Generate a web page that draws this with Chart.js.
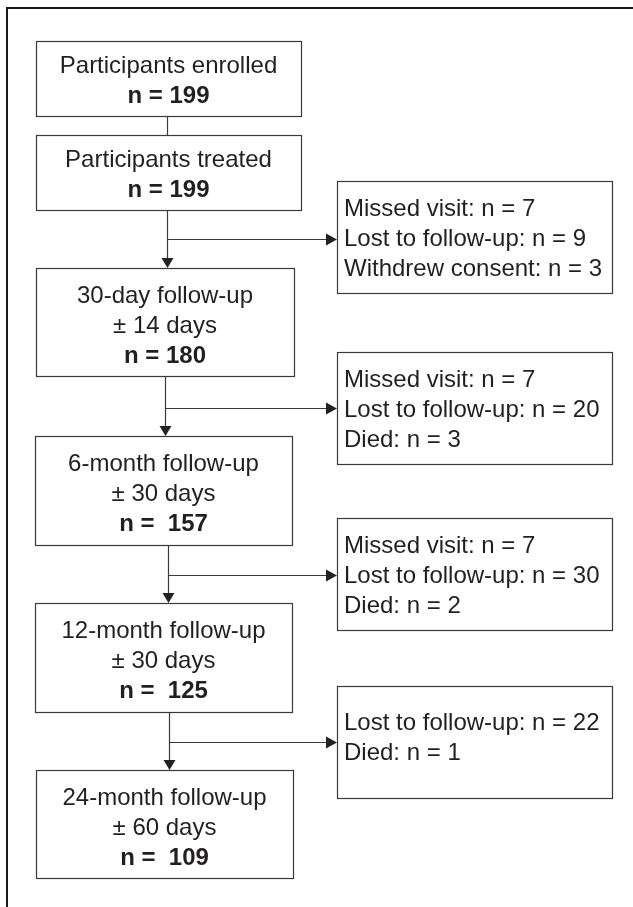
<!DOCTYPE html>
<html><head><meta charset="utf-8">
<script src="https://cdn.jsdelivr.net/npm/chart.js@4/dist/chart.umd.min.js"></script>
<style>html,body{margin:0;padding:0;background:#fff}#wrap{width:633px;height:907px;position:relative}</style>
</head><body><div id="wrap"><canvas id="c"></canvas></div>
<script>
// ---- data ----
const stageNames = ["Participants enrolled","Participants treated","30-day follow-up","6-month follow-up","12-month follow-up","24-month follow-up"];
const stageWindows = ["","","± 14 days","± 30 days","± 30 days","± 60 days"];
const stageN = [199,199,180,157,125,109];
const missedVisit = [7,7,7,null];
const lostToFollowUp = [9,20,30,22];
const withdrewConsent = [3,null,null,null];
const died = [null,3,2,1];

// ---- layout (in axis units) ----
const mainBoxes = [[36,301,41,116],[36,301,135,210],[36,294,268,376],[35,292,436,545],[35,292,603,712],[36,293,770,878]];
const sideBoxes = [[337,612,181,293,0],[337,612,352,464,0],[337,612,518,630,0],[337,612,686,798,-6]];
const branchY = [239,408,575,742];
const stemX = [167,167,165,168,169];

const FONT = '"Liberation Sans", Arial, sans-serif';
const TXT = '#231f20', LINE = '#3a3a3a';

const flowPlugin = {
  id: 'flow',
  afterDraw(chart) {
    const ctx = chart.ctx, xs = chart.scales.x, ys = chart.scales.y;
    const X = v => Math.round(xs.getPixelForValue(v)) + 0.5;
    const Y = v => Math.round(ys.getPixelForValue(v)) + 0.5;
    ctx.save();
    // outer frame
    ctx.strokeStyle = '#1a1a1a'; ctx.lineWidth = 2;
    ctx.beginPath();
    ctx.moveTo(xs.getPixelForValue(7), ys.getPixelForValue(907));
    ctx.lineTo(xs.getPixelForValue(7), ys.getPixelForValue(8));
    ctx.lineTo(xs.getPixelForValue(633), ys.getPixelForValue(8));
    ctx.stroke();

    ctx.strokeStyle = LINE; ctx.lineWidth = 1.2; ctx.fillStyle = '#222';
    const rect = b => { ctx.strokeRect(X(b[0]), Y(b[2]), X(b[1]) - X(b[0]), Y(b[3]) - Y(b[2])); };
    mainBoxes.forEach(rect);
    sideBoxes.forEach(rect);

    const line = (x1,y1,x2,y2) => { ctx.beginPath(); ctx.moveTo(X(x1),Y(y1)); ctx.lineTo(X(x2),Y(y2)); ctx.stroke(); };
    const downArrow = (x,y) => { const px=X(x), py=ys.getPixelForValue(y); ctx.beginPath(); ctx.moveTo(px-6,py-10); ctx.lineTo(px+6,py-10); ctx.lineTo(px,py); ctx.closePath(); ctx.fill(); };
    const rightArrow = (x,y) => { const px=xs.getPixelForValue(x), py=Y(y); ctx.beginPath(); ctx.moveTo(px-11,py-6); ctx.lineTo(px-11,py+6); ctx.lineTo(px,py); ctx.closePath(); ctx.fill(); };

    // enrolled -> treated (no arrow)
    line(stemX[0], mainBoxes[0][3], stemX[0], mainBoxes[1][2]);
    for (let i = 1; i < mainBoxes.length; i++) {
      const x = stemX[i], top = mainBoxes[i][3], bot = mainBoxes[i+1] ? mainBoxes[i+1][2] : null;
      if (bot === null) break;
      line(x, top, x, bot - 8);
      downArrow(x, bot);
      const by = branchY[i-1];
      line(x, by, sideBoxes[i-1][0] - 9, by);
      rightArrow(sideBoxes[i-1][0], by);
    }

    // main box texts
    ctx.fillStyle = TXT; ctx.textAlign = 'center'; ctx.textBaseline = 'alphabetic';
    mainBoxes.forEach((b, i) => {
      const lines = [{t: stageNames[i], bold:false}];
      if (stageWindows[i]) lines.push({t: stageWindows[i], bold:false});
      lines.push({t: (i >= 3 ? 'n =  ' : 'n = ') + stageN[i], bold:true});
      const cx = xs.getPixelForValue((b[0]+b[1])/2), cy = ys.getPixelForValue((b[2]+b[3])/2);
      const n = lines.length;
      lines.forEach((l, k) => {
        ctx.font = (l.bold ? 'bold ' : '') + '24px ' + FONT;
        ctx.fillText(l.t, cx, cy + (k - (n-1)/2) * 30 + 9 + (n === 3 ? 1.5 : 0));
      });
    });

    // side box texts
    ctx.textAlign = 'left'; ctx.font = '24px ' + FONT;
    sideBoxes.forEach((b, i) => {
      const lines = [];
      if (missedVisit[i] != null) lines.push('Missed visit: n = ' + missedVisit[i]);
      if (lostToFollowUp[i] != null) lines.push('Lost to follow-up: n = ' + lostToFollowUp[i]);
      if (withdrewConsent[i] != null) lines.push('Withdrew consent: n = ' + withdrewConsent[i]);
      if (died[i] != null) lines.push('Died: n = ' + died[i]);
      const lx = xs.getPixelForValue(b[0] + 7), cy = ys.getPixelForValue((b[2]+b[3])/2 + b[4]);
      const n = lines.length;
      lines.forEach((t, k) => ctx.fillText(t, lx, cy + (k - (n-1)/2) * 30 + 9));
    });
    ctx.restore();
  }
};

new Chart(document.getElementById('c'), {
  type: 'scatter',
  data: { datasets: [{ data: [], pointRadius: 0 }] },
  options: {
    responsive: true, maintainAspectRatio: false, animation: false,
    layout: { padding: 0 },
    plugins: { legend: { display: false }, tooltip: { enabled: false } },
    scales: {
      x: { type: 'linear', min: 0, max: 633, display: false },
      y: { type: 'linear', min: 0, max: 907, reverse: true, display: false }
    }
  },
  plugins: [flowPlugin]
});
</script></body></html>
